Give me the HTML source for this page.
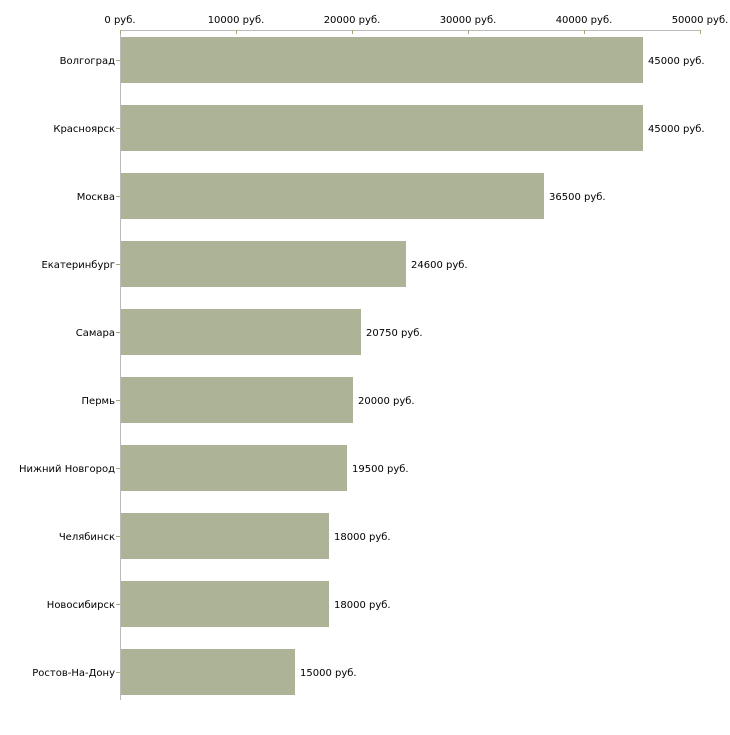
<!DOCTYPE html>
<html><head><meta charset="utf-8"><style>body{margin:0;background:#fff}</style></head>
<body>
<svg width="730" height="730" xmlns="http://www.w3.org/2000/svg" font-family="DejaVu Sans, sans-serif" font-size="10" fill="#000">
<line x1="120.5" y1="30" x2="120.5" y2="700" stroke="#bbb"/>
<line x1="120" y1="30.5" x2="700" y2="30.5" stroke="#bbb"/>
<g stroke="#aaa27a">
<line x1="120.5" y1="30" x2="120.5" y2="34"/>
<line x1="236.5" y1="30" x2="236.5" y2="34"/>
<line x1="352.5" y1="30" x2="352.5" y2="34"/>
<line x1="468.5" y1="30" x2="468.5" y2="34"/>
<line x1="584.5" y1="30" x2="584.5" y2="34"/>
<line x1="700.5" y1="30" x2="700.5" y2="34"/>
</g>
<g text-anchor="middle">
<text x="120" y="23">0 руб.</text>
<text x="236" y="23">10000 руб.</text>
<text x="352" y="23">20000 руб.</text>
<text x="468" y="23">30000 руб.</text>
<text x="584" y="23">40000 руб.</text>
<text x="700" y="23">50000 руб.</text>
</g>
<g fill="#adb396">
<rect x="121" y="37" width="522" height="46"/>
<rect x="121" y="105" width="522" height="46"/>
<rect x="121" y="173" width="423" height="46"/>
<rect x="121" y="241" width="285" height="46"/>
<rect x="121" y="309" width="240" height="46"/>
<rect x="121" y="377" width="232" height="46"/>
<rect x="121" y="445" width="226" height="46"/>
<rect x="121" y="513" width="208" height="46"/>
<rect x="121" y="581" width="208" height="46"/>
<rect x="121" y="649" width="174" height="46"/>
</g>
<g stroke="#aaa27a">
<line x1="116" y1="60.5" x2="120" y2="60.5"/>
<line x1="116" y1="128.5" x2="120" y2="128.5"/>
<line x1="116" y1="196.5" x2="120" y2="196.5"/>
<line x1="116" y1="264.5" x2="120" y2="264.5"/>
<line x1="116" y1="332.5" x2="120" y2="332.5"/>
<line x1="116" y1="400.5" x2="120" y2="400.5"/>
<line x1="116" y1="468.5" x2="120" y2="468.5"/>
<line x1="116" y1="536.5" x2="120" y2="536.5"/>
<line x1="116" y1="604.5" x2="120" y2="604.5"/>
<line x1="116" y1="672.5" x2="120" y2="672.5"/>
</g>
<g text-anchor="end">
<text x="115" y="64">Волгоград</text>
<text x="115" y="132">Красноярск</text>
<text x="115" y="200">Москва</text>
<text x="115" y="268">Екатеринбург</text>
<text x="115" y="336">Самара</text>
<text x="115" y="404">Пермь</text>
<text x="115" y="472">Нижний Новгород</text>
<text x="115" y="540">Челябинск</text>
<text x="115" y="608">Новосибирск</text>
<text x="115" y="676">Ростов-На-Дону</text>
</g>
<text x="648" y="64">45000 руб.</text>
<text x="648" y="132">45000 руб.</text>
<text x="549" y="200">36500 руб.</text>
<text x="411" y="268">24600 руб.</text>
<text x="366" y="336">20750 руб.</text>
<text x="358" y="404">20000 руб.</text>
<text x="352" y="472">19500 руб.</text>
<text x="334" y="540">18000 руб.</text>
<text x="334" y="608">18000 руб.</text>
<text x="300" y="676">15000 руб.</text>
</svg>
</body></html>
